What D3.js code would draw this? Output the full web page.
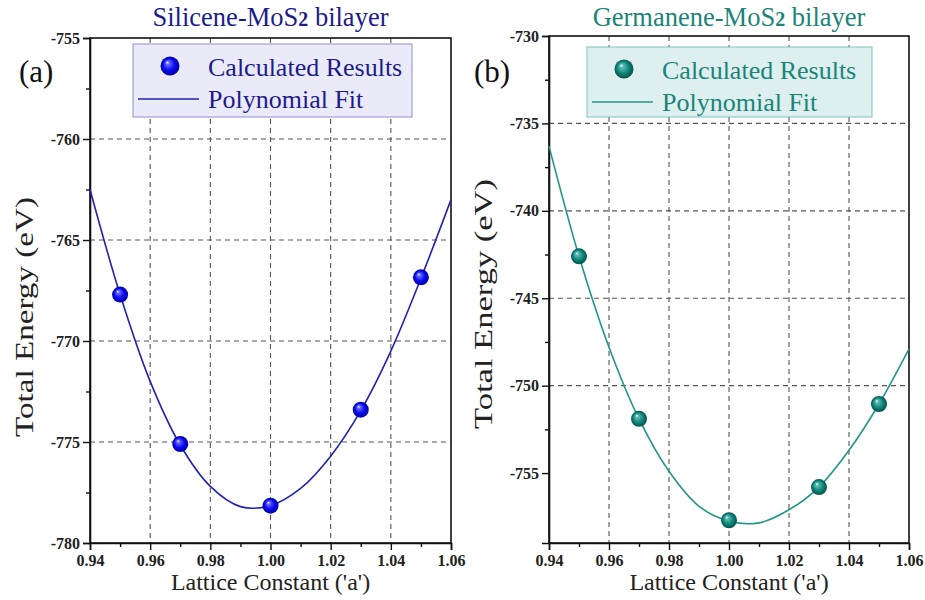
<!DOCTYPE html>
<html>
<head>
<meta charset="utf-8">
<script src="https://cdn.jsdelivr.net/npm/d3@7"></script>
<style>
  body { margin: 0; background: #fff; }
</style>
</head>
<body>
<div id="chart"></div>
<script>
// lattice constants (ratio to a)
const latticeX = [0.95, 0.97, 1.00, 1.03, 1.05];
// polynomial fit curve
const fitX = [0.94, 0.95, 0.96, 0.97, 0.98, 0.99, 1.00, 1.01, 1.02, 1.03, 1.04, 1.05, 1.06];

// (a) silicene-MoS2
const siliceneEnergy = [-767.7, -775.1, -778.15, -773.4, -766.85];
const siliceneFit = [-762.5, -767.7, -772.0, -775.15, -777.2, -778.2, -778.15, -777.3, -775.7, -773.45, -770.5, -766.9, -763.0];
const siliceneYTicks = [-780, -775, -770, -765, -760, -755];

// (b) germanene-MoS2
const germaneneEnergy = [-742.6, -751.9, -757.7, -755.8, -751.05];
const germaneneFit = [-736.3, -742.6, -747.8, -751.9, -754.9, -756.9, -757.75, -757.85, -757.1, -755.8, -753.7, -751.05, -747.9];
const germaneneYTicks = [-755, -750, -745, -740, -735, -730];

const xTicks = [0.94, 0.96, 0.98, 1.00, 1.02, 1.04, 1.06];

const serif = "'Liberation Serif', 'Times New Roman', serif";

const svg = d3.select("#chart")
  .append("svg")
    .attr("width", 925)
    .attr("height", 600)
    .attr("font-family", serif);

const defs = svg.append("defs");

function sphereGrad(id, light, mid, dark) {
  const g = defs.append("radialGradient")
    .attr("id", id)
    .attr("cx", "50%").attr("cy", "50%").attr("r", "50%")
    .attr("fx", "35%").attr("fy", "30%");
  g.append("stop").attr("offset", "0%").attr("stop-color", "#ffffff");
  g.append("stop").attr("offset", "18%").attr("stop-color", light);
  g.append("stop").attr("offset", "60%").attr("stop-color", mid);
  g.append("stop").attr("offset", "100%").attr("stop-color", dark);
}
sphereGrad("ballBlue", "#6a6aff", "#0b0bf0", "#0000a8");
sphereGrad("ballTeal", "#5fbdb3", "#12887e", "#04524b");

function drawPanel(p) {
  const g = svg.append("g");

  const x = d3.scaleLinear().domain([0.94, 1.06]).range([p.left, p.right]);
  const y = d3.scaleLinear().domain(p.yDomain).range([p.bottom, p.top]);

  // dashed grid
  g.append("g").selectAll("line.vg")
    .data(xTicks.slice(1, -1))
    .enter().append("line")
      .attr("x1", d => x(d)).attr("x2", d => x(d))
      .attr("y1", p.top).attr("y2", p.bottom)
      .attr("stroke", "#555").attr("stroke-width", 1.1)
      .attr("stroke-dasharray", "5,4");
  g.append("g").selectAll("line.hg")
    .data(p.yTicks.slice(1, -1))
    .enter().append("line")
      .attr("x1", p.left).attr("x2", p.right)
      .attr("y1", d => y(d)).attr("y2", d => y(d))
      .attr("stroke", "#555").attr("stroke-width", 1.1)
      .attr("stroke-dasharray", "5,4");

  // frame
  g.append("rect")
    .attr("x", p.left).attr("y", p.top)
    .attr("width", p.right - p.left).attr("height", p.bottom - p.top)
    .attr("fill", "none").attr("stroke", "#111").attr("stroke-width", 1.6);

  // axes
  const xAxis = g.append("g")
    .attr("transform", `translate(0, ${p.bottom})`)
    .call(d3.axisBottom(x).tickValues(xTicks).tickFormat(d => d.toFixed(2)).tickSize(7).tickPadding(5));
  g.append("g")
    .attr("transform", `translate(0, ${p.bottom})`)
    .call(d3.axisBottom(x).tickValues(d3.range(0.95, 1.06, 0.02)).tickFormat("").tickSize(4))
    .select(".domain").remove();
  const yAxis = g.append("g")
    .attr("transform", `translate(${p.left}, 0)`)
    .call(d3.axisLeft(y).tickValues(p.yTicks).tickFormat(d => String(d)).tickSize(7).tickPadding(3));
  g.append("g")
    .attr("transform", `translate(${p.left}, 0)`)
    .call(d3.axisLeft(y).tickValues(p.yTicks.slice(0, -1).map(d => d + 2.5)).tickFormat("").tickSize(4))
    .select(".domain").remove();

  g.selectAll(".domain").attr("stroke", "#111").attr("stroke-width", 1.6);
  g.selectAll(".tick line").attr("stroke", "#111").attr("stroke-width", 1.4);
  xAxis.selectAll("text")
    .style("font-size", "16px").style("font-weight", "bold")
    .attr("fill", "#222");
  yAxis.selectAll("text")
    .style("font-size", "16px").style("font-weight", "bold")
    .attr("fill", "#222");

  // fit curve
  const fitData = fitX.map((d, i) => ({x: d, y: p.fit[i]}));
  g.append("path")
    .datum(fitData)
    .attr("fill", "none")
    .attr("stroke", p.lineColor)
    .attr("stroke-width", 1.6)
    .attr("d", d3.line().x(d => x(d.x)).y(d => y(d.y)).curve(d3.curveCatmullRom));

  // calculated points
  g.selectAll("circle.pt")
    .data(latticeX.map((d, i) => ({x: d, y: p.energy[i]})))
    .enter().append("circle")
      .attr("cx", d => x(d.x))
      .attr("cy", d => y(d.y))
      .attr("r", 8)
      .attr("fill", `url(#${p.ball})`);

  // legend
  const lg = g.append("g");
  lg.append("rect")
    .attr("x", p.legend[0]).attr("y", p.legend[1])
    .attr("width", p.legend[2]).attr("height", p.legend[3])
    .attr("fill", p.legendFill).attr("stroke", p.legendStroke).attr("stroke-width", 1);
  lg.append("circle")
    .attr("cx", p.legend[0] + 37).attr("cy", p.legend[1] + 22)
    .attr("r", 9.5).attr("fill", `url(#${p.ball})`);
  lg.append("line")
    .attr("x1", p.legend[0] + 5).attr("x2", p.legend[0] + 66)
    .attr("y1", p.legend[1] + 55).attr("y2", p.legend[1] + 55)
    .attr("stroke", p.lineColor).attr("stroke-width", 1.6);
  lg.append("text")
    .attr("x", p.legend[0] + 75).attr("y", p.legend[1] + 32)
    .attr("fill", p.textColor).style("font-size", "26px")
    .text("Calculated Results");
  lg.append("text")
    .attr("x", p.legend[0] + 75).attr("y", p.legend[1] + 64)
    .attr("fill", p.textColor).style("font-size", "26px")
    .text("Polynomial Fit");

  // title
  const t = g.append("text")
    .attr("x", (p.left + p.right) / 2).attr("y", 26)
    .attr("text-anchor", "middle")
    .attr("fill", p.textColor).style("font-size", "26.5px");
  t.append("tspan").text(p.title[0]);
  t.append("tspan").style("font-size", "20px").style("font-weight", "bold").text("2");
  t.append("tspan").text(p.title[1]);

  // panel letter
  g.append("text")
    .attr("x", p.letterX).attr("y", 82)
    .attr("fill", "#111").style("font-size", "31px")
    .text(p.letter);

  // axis titles
  g.append("text")
    .attr("x", (p.left + p.right) / 2).attr("y", 590)
    .attr("text-anchor", "middle")
    .attr("fill", "#222").style("font-size", "24px")
    .text("Lattice Constant ('a')");
  g.append("text")
    .attr("transform", `translate(${p.yTitleX}, ${p.yTitleY}) rotate(-90)`)
    .attr("text-anchor", "middle")
    .attr("textLength", p.yTitleLen).attr("lengthAdjust", "spacingAndGlyphs")
    .attr("fill", "#222").style("font-size", "26px")
    .text("Total Energy (eV)");
}

drawPanel({
  left: 90, right: 451, top: 38, bottom: 543,
  yDomain: [-780, -755], yTicks: siliceneYTicks,
  energy: siliceneEnergy, fit: siliceneFit,
  lineColor: "#2222b0", textColor: "#1c1c8c", ball: "ballBlue",
  legend: [133, 44, 279, 73], legendFill: "#eaeaf9", legendStroke: "#8f8fd2",
  title: ["Silicene-MoS", " bilayer"], letter: "(a)", letterX: 19,
  yTitleX: 33, yTitleY: 317, yTitleLen: 240
});

drawPanel({
  left: 549, right: 909, top: 36, bottom: 543,
  yDomain: [-759, -730], yTicks: germaneneYTicks,
  energy: germaneneEnergy, fit: germaneneFit,
  lineColor: "#22968a", textColor: "#1b8479", ball: "ballTeal",
  legend: [587, 47, 285, 70], legendFill: "#ddf0ef", legendStroke: "#7fc2bd",
  title: ["Germanene-MoS", " bilayer"], letter: "(b)", letterX: 474,
  yTitleX: 492, yTitleY: 304, yTitleLen: 250
});

// d3 axes set their own font on the group; force the serif face everywhere
svg.selectAll("text").attr("font-family", serif).style("font-family", serif);
</script>
</body>
</html>
